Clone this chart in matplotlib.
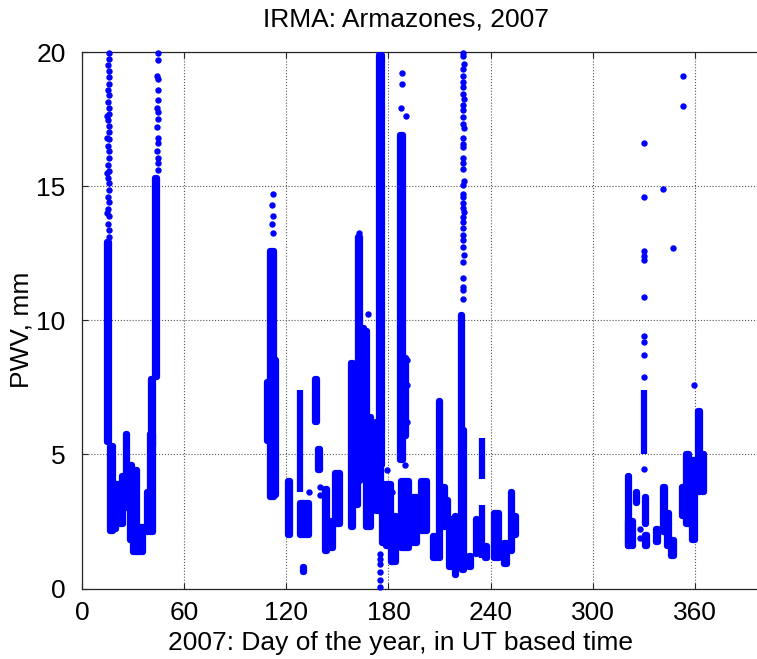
import matplotlib

matplotlib.use("Agg")
import matplotlib.pyplot as plt

plt.rcParams["font.family"] = ["Liberation Sans", "DejaVu Sans"]

BLUE = "#0000ff"

# dense runs of samples: day range and PWV range (mm) covered by each run
RUN_DAY0 = [14.4, 16.1, 17.1, 20.0, 23.5, 25.5, 28.3, 31.0, 29.6, 37.8,
            39.6, 40.5, 42.5,
            108.5, 110.5, 113.5, 120.8, 127.8, 128.0, 129.5, 136.8, 138.8,
            142.6, 146.5, 148.6, 157.8, 160.8, 162.0, 164.2, 166.5, 166.5,
            172.5, 174.5, 176.0, 178.5, 181.5, 187.0, 189.2, 187.4, 194.3,
            199.1, 206.0, 209.5, 212.0, 214.0, 215.8, 219.0, 222.5, 223.0,
            227.5, 231.5, 234.8, 234.8, 237.0, 242.3, 248.0, 252.2, 254.5,
            320.6, 321.0, 325.5, 330.0, 330.8, 330.8, 337.5, 341.5, 343.5,
            346.0, 352.7, 355.2, 358.3, 362.0, 364.2]
RUN_DAY1 = [15.9, 17.8, 20.0, 23.7, 25.0, 26.0, 29.2, 32.0, 35.4, 38.6,
            41.4, 41.6, 44.0,
            109.3, 112.5, 113.8, 122.0, 128.2, 133.2, 130.3, 138.2, 140.0,
            143.6, 147.6, 151.6, 159.3, 162.3, 163.2, 165.5, 169.5, 167.5,
            175.5, 176.0, 178.0, 181.5, 184.5, 188.5, 190.3, 192.0, 196.9,
            202.8, 208.7, 210.0, 213.0, 215.0, 218.5, 219.8, 223.5, 224.5,
            228.5, 232.3, 235.2, 235.2, 237.8, 244.9, 249.8, 252.6, 255.2,
            321.2, 323.5, 326.0, 330.5, 331.5, 332.0, 338.5, 342.5, 345.0,
            348.0, 353.6, 356.4, 360.2, 363.2, 365.4]
RUN_LO = [5.45, 2.15, 2.2, 2.4, 3.4, 3.0, 1.8, 1.65, 1.35, 2.1,
          2.1, 5.3, 7.9,
          5.5, 3.4, 3.5, 2.0, 3.6, 2.0, 0.6, 6.2, 4.4,
          1.4, 1.5, 2.4, 2.3, 3.1, 4.0, 4.1, 2.3, 6.4,
          2.9, 4.6, 1.7, 1.6, 1.0, 4.8, 5.7, 1.5, 1.7,
          2.15, 1.15, 1.15, 2.3, 2.4, 0.8, 0.5, 0.9, 0.7,
          0.8, 1.3, 4.1, 1.15, 1.15, 1.15, 0.9, 1.4, 2.0,
          1.6, 1.6, 3.2, 5.0, 2.4, 1.6, 1.75, 2.1, 1.6,
          1.2, 2.7, 2.4, 1.8, 3.6, 3.6]
RUN_HI = [12.9, 5.3, 3.9, 3.9, 4.2, 5.75, 4.6, 4.4, 2.3, 3.6,
          5.75, 7.8, 15.3,
          7.7, 12.6, 8.5, 4.0, 7.4, 3.2, 0.8, 7.8, 5.2,
          3.7, 2.5, 4.3, 8.4, 5.8, 13.1, 9.7, 6.4, 9.6,
          6.2, 19.9, 3.9, 3.9, 2.7, 16.9, 8.6, 4.0, 3.4,
          4.0, 1.95, 7.0, 3.8, 3.3, 2.6, 2.7, 10.2, 5.9,
          1.2, 2.6, 5.6, 3.1, 1.6, 2.8, 1.7, 3.6, 2.7,
          4.2, 2.5, 3.6, 7.4, 3.4, 2.0, 2.2, 3.8, 2.8,
          1.8, 3.8, 5.0, 4.8, 6.6, 5.0]

# isolated samples (day, PWV mm)
DOT_DAY = [15.6, 15.9, 15.3, 15.8, 15.5, 15.9, 15.4, 15.7, 15.2, 15.8,
           15.5, 15.3, 15.9, 15.5, 15.7, 15.3, 15.8, 15.6, 15.2, 15.7,
           15.4, 15.9, 15.5, 15.2, 15.8, 15.4, 15.7, 15.3, 15.8, 15.5,
           14.6, 14.7, 14.7, 14.6,
           44.3, 44.6, 44.2, 44.6, 44.3, 44.4, 44.2, 44.6, 44.3, 44.2,
           44.5, 44.4, 44.2, 44.6, 44.4, 44.3,
           112.0, 111.8, 112.1, 111.6, 112.0,
           133.5, 139.5, 139.7, 162.9, 168.2,
           175.2, 175.0, 175.3, 175.0, 175.2, 175.0, 178.9, 181.9,
           187.8, 187.8, 187.6, 190.3, 190.7, 190.7, 190.7, 189.7,
           224.0, 223.7, 224.2, 224.0, 223.8, 224.1, 224.0, 223.8, 224.2,
           224.0, 223.8, 224.1, 224.0, 224.2, 223.9, 224.0, 223.8, 224.1,
           224.0, 223.8, 224.2, 224.0, 223.9, 224.1, 224.0, 223.8, 224.2,
           224.0, 223.9, 224.1, 224.0, 223.8, 224.0, 224.2, 224.0, 223.9,
           224.1, 224.0, 223.9,
           327.6, 327.6,
           330.3, 330.3, 330.3, 330.3, 330.3, 330.3, 330.3, 330.3, 330.3,
           330.3, 330.3,
           341.6, 347.0, 353.0, 353.0, 359.8]
DOT_PWV = [19.95, 19.75, 19.5, 19.3, 19.05, 18.8, 18.6, 18.4, 18.15, 17.9,
           17.7, 17.45, 17.25, 17.0, 16.75, 16.5, 16.3, 16.05, 15.8, 15.55,
           15.3, 15.1, 14.85, 14.6, 14.4, 14.15, 13.9, 13.6, 13.35, 13.1,
           17.6, 16.8, 15.5, 14.0,
           19.95, 19.7, 19.1, 19.0, 18.6, 18.2, 17.9, 17.75, 17.5, 17.2,
           16.8, 16.6, 16.3, 16.05, 15.85, 15.6,
           14.7, 14.3, 13.9, 13.6, 13.25,
           3.6, 3.8, 3.5, 13.25, 10.25,
           1.3, 1.1, 0.9, 0.6, 0.3, 0.05, 4.4, 3.6,
           19.2, 18.8, 17.9, 17.6, 8.5, 7.6, 6.2, 4.6,
           19.97, 19.84, 19.57, 19.37, 19.1, 18.9, 18.7, 18.44, 18.24,
           18.04, 17.84, 17.58, 17.31, 17.18, 16.78, 16.58, 16.44, 16.04,
           15.85, 15.65, 15.18, 15.05, 14.71, 14.58, 14.38, 14.18, 14.05,
           13.85, 13.65, 13.45, 13.18, 12.98, 12.72, 12.45, 12.18, 11.58,
           11.25, 11.12, 10.79,
           2.2, 1.9,
           4.46, 7.9, 8.7, 9.2, 9.4, 10.85, 12.25, 12.4, 12.6, 14.6, 16.6,
           14.9, 12.7, 19.1, 18.0, 7.6]

X_TICKS = [0, 60, 120, 180, 240, 300, 360]
Y_TICKS = [0, 5, 10, 15, 20]

fig = plt.figure(figsize=(7.57, 6.59), dpi=100)
ax = fig.add_axes([82.3 / 757, 70.5 / 659, 680.4 / 757, 536.5 / 659])

widths = [b - a for a, b in zip(RUN_DAY0, RUN_DAY1)]
heights = [h - l for l, h in zip(RUN_LO, RUN_HI)]
ax.bar(RUN_DAY0, heights, width=widths, bottom=RUN_LO, align="edge",
       color=BLUE, edgecolor=BLUE, linewidth=4.5, joinstyle="round",
       zorder=3)
ax.plot(DOT_DAY, DOT_PWV, "o", color=BLUE, ms=4.6, mew=0, zorder=3,
        clip_on=False)

ax.set_xlim(0, 400)
ax.set_ylim(0, 20)
ax.set_xticks(X_TICKS)
ax.set_yticks(Y_TICKS)
ax.tick_params(direction="in", length=4, width=0.8, top=True, right=False,
               labelsize=19, color="#262626")
ax.tick_params(axis="x", pad=9)
ax.tick_params(axis="y", pad=12)
ax.grid(True, linestyle=":", color="#555555", linewidth=0.8, zorder=0)
for s in ax.spines.values():
    s.set_color("#262626")
    s.set_linewidth(0.9)
ax.spines["right"].set_visible(False)

ax.set_title("IRMA: Armazones, 2007", fontsize=19, x=0.476, pad=18)
ax.set_xlabel("2007: Day of the year, in UT based time", fontsize=19)
ax.xaxis.set_label_coords(0.468, -0.08)
ax.set_ylabel("PWV, mm", fontsize=19)
ax.yaxis.set_label_coords(-0.072, 0.482)

fig.savefig("out.png", dpi=100)
